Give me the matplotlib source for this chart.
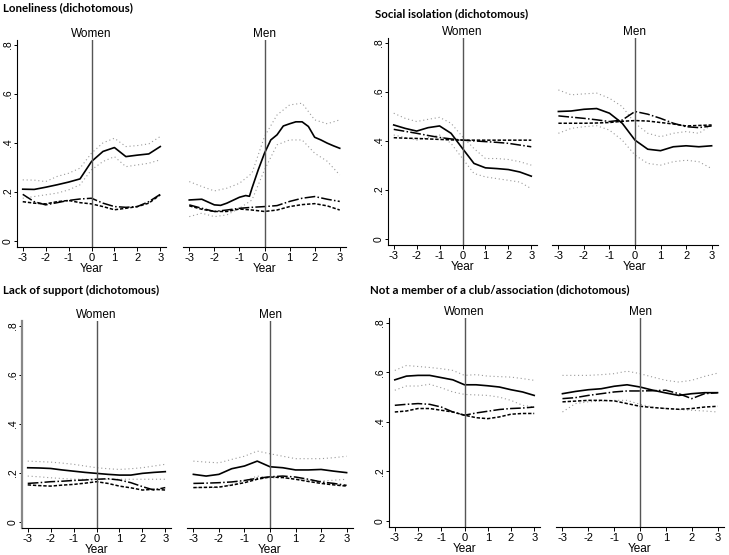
import matplotlib
matplotlib.use("Agg")
import matplotlib.pyplot as plt
from matplotlib import font_manager

YEARS = [-3, -2.5, -2, -1.5, -1, -0.5, 0, 0.5, 1, 1.5, 2, 2.5, 3]
YEARS_FINE = [-3, -2.5, -2, -1.75, -1.5, -1, -0.75, -0.6, -0.5, -0.25, 0, 0.25, 0.5, 0.75,
              1, 1.25, 1.5, 1.75, 2, 2.25, 2.5, 2.75, 3]
YTICKS = [0, 0.2, 0.4, 0.6, 0.8]
YTICK_LABELS = ["0", ".2", ".4", ".6", ".8"]
XTICKS = [-3, -2, -1, 0, 1, 2, 3]
TITLES = ["Loneliness (dichotomous)", "Social isolation (dichotomous)",
          "Lack of support (dichotomous)", "Not a member of a club/association (dichotomous)"]
GROUPS = ["Women", "Men"]

# ---- Loneliness ----
lon_w_solid = [0.211, 0.210, 0.219, 0.229, 0.240, 0.253, 0.324, 0.365, 0.381, 0.344, 0.350, 0.355, 0.385]
lon_w_hi = [0.249, 0.248, 0.242, 0.263, 0.276, 0.297, 0.358, 0.400, 0.419, 0.385, 0.389, 0.396, 0.426]
lon_w_lo = [0.174, 0.181, 0.188, 0.195, 0.208, 0.229, 0.290, 0.324, 0.344, 0.303, 0.310, 0.317, 0.331]
lon_w_long = [0.190, 0.160, 0.147, 0.156, 0.165, 0.171, 0.174, 0.154, 0.140, 0.137, 0.140, 0.160, 0.190]
lon_w_short = [0.160, 0.154, 0.151, 0.160, 0.165, 0.156, 0.151, 0.140, 0.127, 0.133, 0.140, 0.154, 0.188]

lon_m_solid = [0.167, 0.170, 0.147, 0.145, 0.154, 0.178, 0.185, 0.182, 0.215, 0.290, 0.358, 0.412, 0.433,
               0.469, 0.478, 0.486, 0.486, 0.467, 0.423, 0.412, 0.399, 0.388, 0.378]
lon_m_hi = [0.242, 0.222, 0.204, 0.215, 0.235, 0.276, 0.426, 0.514, 0.555, 0.562, 0.494, 0.478, 0.494]
lon_m_lo = [0.099, 0.113, 0.099, 0.106, 0.133, 0.167, 0.290, 0.392, 0.412, 0.412, 0.358, 0.325, 0.269]
lon_m_long = [0.147, 0.133, 0.120, 0.126, 0.133, 0.137, 0.140, 0.144, 0.161, 0.174, 0.181, 0.170, 0.161]
lon_m_short = [0.143, 0.129, 0.120, 0.120, 0.130, 0.126, 0.120, 0.126, 0.140, 0.148, 0.152, 0.143, 0.126]

# ---- Social isolation ----
soc_w_solid = [0.465, 0.451, 0.440, 0.454, 0.461, 0.431, 0.369, 0.308, 0.290, 0.287, 0.283, 0.273, 0.256]
soc_w_hi = [0.513, 0.492, 0.479, 0.488, 0.496, 0.472, 0.417, 0.369, 0.328, 0.328, 0.324, 0.315, 0.301]
soc_w_lo = [0.424, 0.414, 0.403, 0.414, 0.424, 0.390, 0.328, 0.267, 0.253, 0.246, 0.239, 0.232, 0.205]
soc_w_long = [0.447, 0.439, 0.431, 0.422, 0.414, 0.408, 0.403, 0.400, 0.397, 0.394, 0.390, 0.383, 0.376]
soc_w_short = [0.413, 0.411, 0.410, 0.408, 0.406, 0.404, 0.403, 0.403, 0.403, 0.403, 0.403, 0.403, 0.403]

soc_m_solid = [0.520, 0.522, 0.529, 0.532, 0.513, 0.472, 0.403, 0.366, 0.360, 0.376, 0.380, 0.376, 0.380]
soc_m_hi = [0.608, 0.588, 0.592, 0.595, 0.574, 0.540, 0.472, 0.431, 0.417, 0.431, 0.438, 0.431, 0.465]
soc_m_lo = [0.431, 0.451, 0.458, 0.462, 0.444, 0.403, 0.342, 0.308, 0.301, 0.315, 0.321, 0.315, 0.287]
soc_m_long = [0.502, 0.497, 0.492, 0.486, 0.479, 0.485, 0.520, 0.509, 0.492, 0.472, 0.458, 0.454, 0.461]
soc_m_short = [0.472, 0.472, 0.472, 0.473, 0.475, 0.480, 0.483, 0.481, 0.475, 0.469, 0.461, 0.463, 0.465]

# ---- Lack of support ----
sup_w_solid = [0.221, 0.220, 0.218, 0.212, 0.207, 0.202, 0.198, 0.194, 0.191, 0.191, 0.198, 0.202, 0.205]
sup_w_hi = [0.248, 0.246, 0.244, 0.240, 0.235, 0.228, 0.221, 0.217, 0.214, 0.217, 0.221, 0.228, 0.235]
sup_w_lo = [0.187, 0.184, 0.180, 0.177, 0.174, 0.174, 0.174, 0.174, 0.174, 0.174, 0.174, 0.174, 0.174]
sup_w_long = [0.157, 0.160, 0.164, 0.166, 0.169, 0.171, 0.174, 0.176, 0.171, 0.160, 0.144, 0.130, 0.140]
sup_w_short = [0.151, 0.148, 0.146, 0.150, 0.153, 0.158, 0.164, 0.157, 0.146, 0.139, 0.130, 0.133, 0.130]

sup_m_solid = [0.194, 0.187, 0.194, 0.217, 0.228, 0.248, 0.225, 0.221, 0.212, 0.212, 0.214, 0.207, 0.201]
sup_m_hi = [0.248, 0.244, 0.241, 0.255, 0.268, 0.289, 0.278, 0.268, 0.258, 0.258, 0.258, 0.262, 0.268]
sup_m_lo = [0.140, 0.140, 0.140, 0.153, 0.167, 0.187, 0.180, 0.180, 0.174, 0.170, 0.167, 0.170, 0.174]
sup_m_long = [0.157, 0.158, 0.160, 0.163, 0.169, 0.178, 0.184, 0.187, 0.183, 0.174, 0.163, 0.157, 0.149]
sup_m_short = [0.140, 0.141, 0.142, 0.150, 0.160, 0.174, 0.183, 0.181, 0.174, 0.165, 0.157, 0.151, 0.146]

# ---- Not a member of a club/association ----
clb_w_solid = [0.570, 0.585, 0.588, 0.588, 0.579, 0.570, 0.550, 0.550, 0.546, 0.541, 0.530, 0.521, 0.507]
clb_w_hi = [0.608, 0.628, 0.624, 0.620, 0.615, 0.608, 0.588, 0.591, 0.585, 0.583, 0.581, 0.575, 0.568]
clb_w_lo = [0.528, 0.545, 0.545, 0.552, 0.538, 0.521, 0.511, 0.509, 0.507, 0.500, 0.487, 0.467, 0.460]
clb_w_long = [0.467, 0.471, 0.474, 0.471, 0.460, 0.440, 0.427, 0.436, 0.443, 0.450, 0.454, 0.456, 0.460]
clb_w_short = [0.440, 0.444, 0.454, 0.454, 0.447, 0.440, 0.427, 0.417, 0.413, 0.420, 0.431, 0.434, 0.434]

clb_m_solid = [0.514, 0.523, 0.530, 0.534, 0.544, 0.550, 0.541, 0.528, 0.517, 0.507, 0.514, 0.518, 0.518]
clb_m_hi = [0.588, 0.588, 0.588, 0.591, 0.595, 0.605, 0.595, 0.581, 0.568, 0.561, 0.568, 0.584, 0.597]
clb_m_lo = [0.440, 0.474, 0.481, 0.484, 0.487, 0.487, 0.471, 0.460, 0.454, 0.450, 0.447, 0.444, 0.440]
clb_m_long = [0.494, 0.498, 0.507, 0.514, 0.521, 0.525, 0.525, 0.526, 0.528, 0.514, 0.494, 0.514, 0.518]
clb_m_short = [0.481, 0.484, 0.487, 0.487, 0.485, 0.474, 0.463, 0.458, 0.454, 0.451, 0.454, 0.460, 0.463]

PANELS = [
    [(YEARS, lon_w_solid, lon_w_hi, lon_w_lo, lon_w_long, lon_w_short),
     (YEARS_FINE, lon_m_solid, lon_m_hi, lon_m_lo, lon_m_long, lon_m_short)],
    [(YEARS, soc_w_solid, soc_w_hi, soc_w_lo, soc_w_long, soc_w_short),
     (YEARS, soc_m_solid, soc_m_hi, soc_m_lo, soc_m_long, soc_m_short)],
    [(YEARS, sup_w_solid, sup_w_hi, sup_w_lo, sup_w_long, sup_w_short),
     (YEARS, sup_m_solid, sup_m_hi, sup_m_lo, sup_m_long, sup_m_short)],
    [(YEARS, clb_w_solid, clb_w_hi, clb_w_lo, clb_w_long, clb_w_short),
     (YEARS, clb_m_solid, clb_m_hi, clb_m_lo, clb_m_long, clb_m_short)],
]

W, H = 729, 555
# pixel boxes (left, right, top, bottom) for Women / Men axes in each panel
BOXES = [
    [(17, 166, 40, 247), (183, 346, 40, 247)],
    [(388, 537, 38, 245), (552, 718, 38, 245)],
    [(22, 171, 321, 528), (187, 353, 321, 528)],
    [(389, 540, 318, 527), (556, 724, 318, 527)],
]
TITLE_POS = [(3, 8), (375, 14), (3, 290), (370, 290)]

installed = {f.name for f in font_manager.fontManager.ttflist}
narrow = 'Liberation Sans Narrow' if 'Liberation Sans Narrow' in installed else 'Liberation Sans'
plt.rcParams['font.family'] = [narrow, 'DejaVu Sans']
fig = plt.figure(figsize=(W / 100, H / 100), dpi=100)

for p, (panel, boxes) in enumerate(zip(PANELS, BOXES)):
    tx, ty = TITLE_POS[p]
    fig.text(tx / W, 1 - ty / H, TITLES[p], fontsize=8.3, fontweight='bold',
             family=['Lato', 'DejaVu Sans'], ha='left', va='center')
    for g, (series, box) in enumerate(zip(panel, boxes)):
        L, R, T, B = box
        ax = fig.add_axes([L / W, 1 - B / H, (R - L) / W, (B - T) / H])
        xs = series[0]
        solid, hi, lo, longd, shortd = series[1:]
        xr = YEARS
        ax.plot(xr, hi, color='#9a9a9a', lw=0.8, ls=(0, (1, 2.5)))
        ax.plot(xr, lo, color='#9a9a9a', lw=0.8, ls=(0, (1, 2.5)))
        ax.plot(xr, longd, color='black', lw=1.1, ls=(0, (7, 1.5, 1, 1.5)))
        ax.plot(xr, shortd, color='black', lw=1.1, ls=(0, (2.2, 1.2)))
        ax.plot(xs, solid, color='black', lw=1.2, ls='-')
        ax.axvline(0, color='#555555', lw=1.0)
        ax.set_xlim(-3.25, 3.25)
        ax.set_ylim(-0.025, 0.82)
        ax.set_xticks(XTICKS)
        ax.set_xticklabels([str(t) for t in XTICKS], fontsize=8)
        ax.set_xlabel("Year", fontsize=8.5, labelpad=0)
        ax.set_title(GROUPS[g], fontsize=8.5, pad=2)
        ax.spines['top'].set_visible(False)
        ax.spines['right'].set_visible(False)
        ax.tick_params(axis='x', length=3, width=0.7, pad=1.5)
        if g == 0:
            ax.set_yticks(YTICKS)
            ax.set_yticklabels(YTICK_LABELS, fontsize=7.5, rotation=90, va='center')
            ax.tick_params(axis='y', length=2.5, width=0.7, pad=0.5)
            ax.spines['left'].set_linewidth(0.8)
            if p == 2:
                ax.spines['left'].set_color('#888888')
                ax.spines['left'].set_linewidth(1.6)
        else:
            ax.spines['left'].set_visible(False)
            ax.set_yticks([])
        ax.spines['bottom'].set_linewidth(0.8)

fig.savefig("out.png", dpi=100)
